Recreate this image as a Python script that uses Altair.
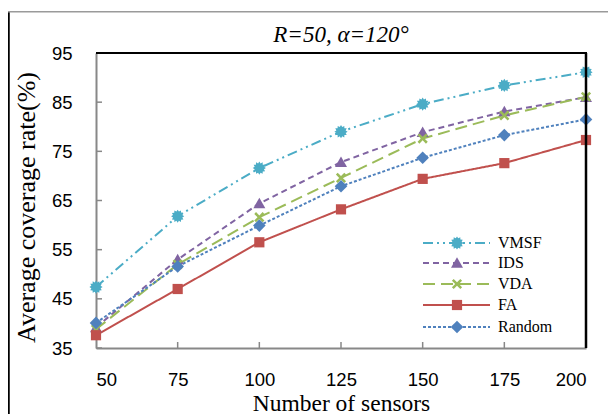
import math
import altair as alt
import pandas as pd

# ---------------- data ----------------
sensors = [50, 75, 100, 125, 150, 175, 200]
methods = ["VMSF", "IDS", "VDA", "FA", "Random"]
vmsf = [47.4, 61.8, 71.6, 79.0, 84.6, 88.4, 91.1]
ids = [39.2, 53.0, 64.4, 72.8, 78.9, 83.1, 86.0]
vda = [38.8, 52.0, 61.6, 69.6, 77.6, 82.3, 86.1]
fa = [37.6, 47.0, 56.5, 63.2, 69.4, 72.6, 77.3]
rnd = [40.1, 51.6, 59.9, 67.9, 73.7, 78.3, 81.5]
y_ticks = [35, 45, 55, 65, 75, 85, 95]
x_inner_ticks = [75, 100, 125, 150, 175]
title_text = "R=50, α=120°"

series = {"VMSF": vmsf, "IDS": ids, "VDA": vda, "FA": fa, "Random": rnd}
rows = []
for m in methods:
    for s, v in zip(sensors, series[m]):
        rows.append({"sensors": s, "rate": v, "method": m})
df = pd.DataFrame(rows)

# ---------------- styles ----------------
colors = ["#4BACC6", "#8064A2", "#9BBB59", "#C0504D", "#4F81BD"]
dashes = [[10, 4, 2, 4, 2, 4], [6, 4], [12, 6], [1, 0], [3, 2]]

pts = []
for k in range(24):
    r = 1.1 if k % 2 == 0 else 0.8
    a = math.pi * k / 12
    pts.append(f"{r*math.cos(a):.3f},{r*math.sin(a):.3f}")
star = "M" + "L".join(pts) + "Z"
tri = "M0,-0.95L1,0.8L-1,0.8Z"
xmark = "M-0.85,-0.55L-0.55,-0.85L0,-0.3L0.55,-0.85L0.85,-0.55L0.3,0L0.85,0.55L0.55,0.85L0,0.3L-0.55,0.85L-0.85,0.55L-0.3,0Z"
square = "M-0.85,-0.85L0.85,-0.85L0.85,0.85L-0.85,0.85Z"
diamond = "M0,-1.05L1.05,0L0,1.05L-1.05,0Z"
shapes = [star, tri, xmark, square, diamond]

W, H = 490, 295
GRAY = "#888888"
LABEL_FONT = "Liberation Sans"
SERIF = "Liberation Serif"

xscale = alt.Scale(domain=[50, 200], nice=False, zero=False)
yscale = alt.Scale(domain=[35, 95], nice=False, zero=False)

x_enc = alt.X(
    "sensors:Q", scale=xscale,
    axis=alt.Axis(values=sensors, ticks=False, grid=False, domainColor=GRAY,
                  domainWidth=2, labelFont=LABEL_FONT, labelFontSize=18.5,
                  labelColor="black", labelPadding=22,
                  title="Number of sensors", titleFont=SERIF, titleFontSize=23.5,
                  titleFontWeight="normal", titleColor="black",
                  titleX=W / 2, titleY=62, titleAlign="center",
                  titleBaseline="alphabetic"))
y_enc = alt.Y(
    "rate:Q", scale=yscale,
    axis=alt.Axis(values=y_ticks, ticks=False, grid=False, domainColor=GRAY,
                  domainWidth=2, labelFont=LABEL_FONT, labelFontSize=18.5,
                  labelColor="black", labelPadding=24,
                  title="Average coverage rate(%)", titleFont=SERIF,
                  titleFontSize=26, titleFontWeight="normal",
                  titleColor="black", titleX=-62, titleY=154,
                  titleAngle=270, titleAlign="center",
                  titleBaseline="alphabetic"))

color_enc = alt.Color("method:N", scale=alt.Scale(domain=methods, range=colors), legend=None)
base = alt.Chart(df)

lines = base.mark_line(strokeWidth=2).encode(
    x=x_enc, y=y_enc, color=color_enc,
    strokeDash=alt.StrokeDash("method:N", scale=alt.Scale(domain=methods, range=dashes), legend=None),
)
points = base.mark_point(filled=True, opacity=1, size=144).encode(
    x=alt.X("sensors:Q", scale=xscale),
    y=alt.Y("rate:Q", scale=yscale),
    color=color_enc,
    shape=alt.Shape("method:N", scale=alt.Scale(domain=methods, range=shapes), legend=None),
)

# inward ticks
ytick_df = pd.DataFrame({"v": y_ticks})
xtick_df = pd.DataFrame({"v": x_inner_ticks})
yticks = alt.Chart(ytick_df).mark_rule(color=GRAY, strokeWidth=1.5).encode(
    y=alt.Y("v:Q", scale=yscale), x=alt.value(0), x2=alt.value(6))
xticks = alt.Chart(xtick_df).mark_rule(color=GRAY, strokeWidth=1.5).encode(
    x=alt.X("v:Q", scale=xscale), y=alt.value(H), y2=alt.value(H - 6))

one = alt.Data(values=[{"k": 1}])
top_border = alt.Chart(one).mark_rule(color="black", strokeWidth=2).encode(
    x=alt.value(0), x2=alt.value(W + 1), y=alt.value(0))
right_border = alt.Chart(one).mark_rule(color="black", strokeWidth=2.5).encode(
    x=alt.value(W), y=alt.value(0), y2=alt.value(H))
outer_left = alt.Chart(one).mark_rule(color="black", strokeWidth=2.5).encode(
    x=alt.value(-87.5), y=alt.value(-42), y2=alt.value(H + 70))
outer_top = alt.Chart(one).mark_rule(color="#9a9a9a", strokeWidth=1.5).encode(
    x=alt.value(-88), x2=alt.value(W + 22), y=alt.value(-41.3))

title_df = pd.DataFrame({"t": [title_text]})
title = alt.Chart(title_df).mark_text(
    font=SERIF, fontSize=23, fontStyle="italic", align="center",
    baseline="alphabetic", color="black").encode(
    x=alt.value(W / 2), y=alt.value(-11), text="t:N")

# legend (inside plot, lower right)
legend_layers = []
leg_y = [190, 210, 231, 252, 274]
for m, c, d, s, ly in zip(methods, colors, dashes, shapes, leg_y):
    ldf = pd.DataFrame({"name": [m]})
    lc = alt.Chart(ldf)
    legend_layers.append(lc.mark_rule(color=c, strokeWidth=2, strokeDash=d).encode(
        x=alt.value(327), x2=alt.value(394), y=alt.value(ly)))
    legend_layers.append(lc.mark_point(filled=True, opacity=1, size=144, color=c, shape=s).encode(
        x=alt.value(361), y=alt.value(ly)))
    legend_layers.append(lc.mark_text(font=SERIF, fontSize=16, align="left", baseline="middle",
                                      color="black").encode(
        x=alt.value(402), y=alt.value(ly), text="name:N"))

chart = alt.layer(
    outer_left, outer_top, title, yticks, xticks, lines, points, top_border, right_border,
    *legend_layers
).properties(
    width=W, height=H,
    autosize=alt.AutoSizeParams(type="none"),
    padding={"left": 88, "top": 45, "right": 22, "bottom": 66},
).configure_view(stroke=None).configure(background="white")

chart.save("out.html", embed_options={"renderer": "svg", "actions": False})
